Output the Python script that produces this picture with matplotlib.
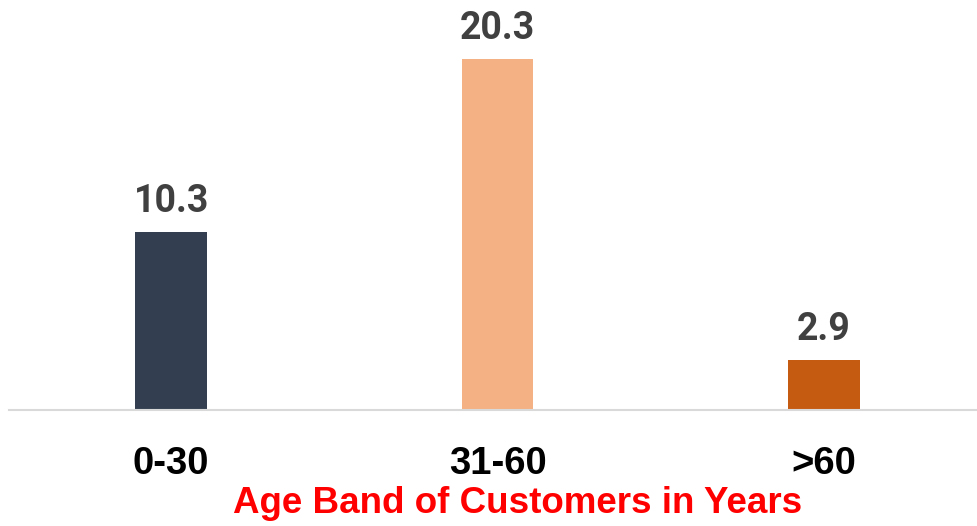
import matplotlib.pyplot as plt

age_bands = ["0-30", "31-60", ">60"]
values = [10.3, 20.3, 2.9]
bar_colors = ["#333F50", "#F4B183", "#C55A11"]

fig = plt.figure(figsize=(9.78, 5.26), dpi=100)
ax = fig.add_axes([9 / 978, 116 / 526, 969 / 978, 410 / 526])

x = range(len(age_bands))
bars = ax.bar(x, values, width=0.22, color=bar_colors)

for b, v in zip(bars, values):
    ax.annotate(f"{v:.1f}", (b.get_x() + b.get_width() / 2, v),
                xytext=(0, 14.4), textcoords="offset points",
                ha="center", va="baseline", fontsize=27,
                fontweight="bold", family="Roboto", color="#404040")

ax.set_xlim(-0.497, 2.472)
ax.set_ylim(0, 23.7)
ax.set_xticks(list(x))
ax.set_xticklabels(age_bands, fontsize=27.5, fontweight="bold",
                   family="Liberation Sans", color="black")
ax.tick_params(axis="x", length=0, pad=26)
ax.set_yticks([])

for s in ["top", "right", "left"]:
    ax.spines[s].set_visible(False)
ax.spines["bottom"].set_color("#D9D9D9")
ax.spines["bottom"].set_linewidth(1.5)

ax.set_xlabel("Age Band of Customers in Years", fontsize=26.5,
              fontweight="bold", family="Liberation Sans", color="red")
ax.xaxis.set_label_coords(0.525, -0.185)

fig.savefig("out.png", dpi=100)
